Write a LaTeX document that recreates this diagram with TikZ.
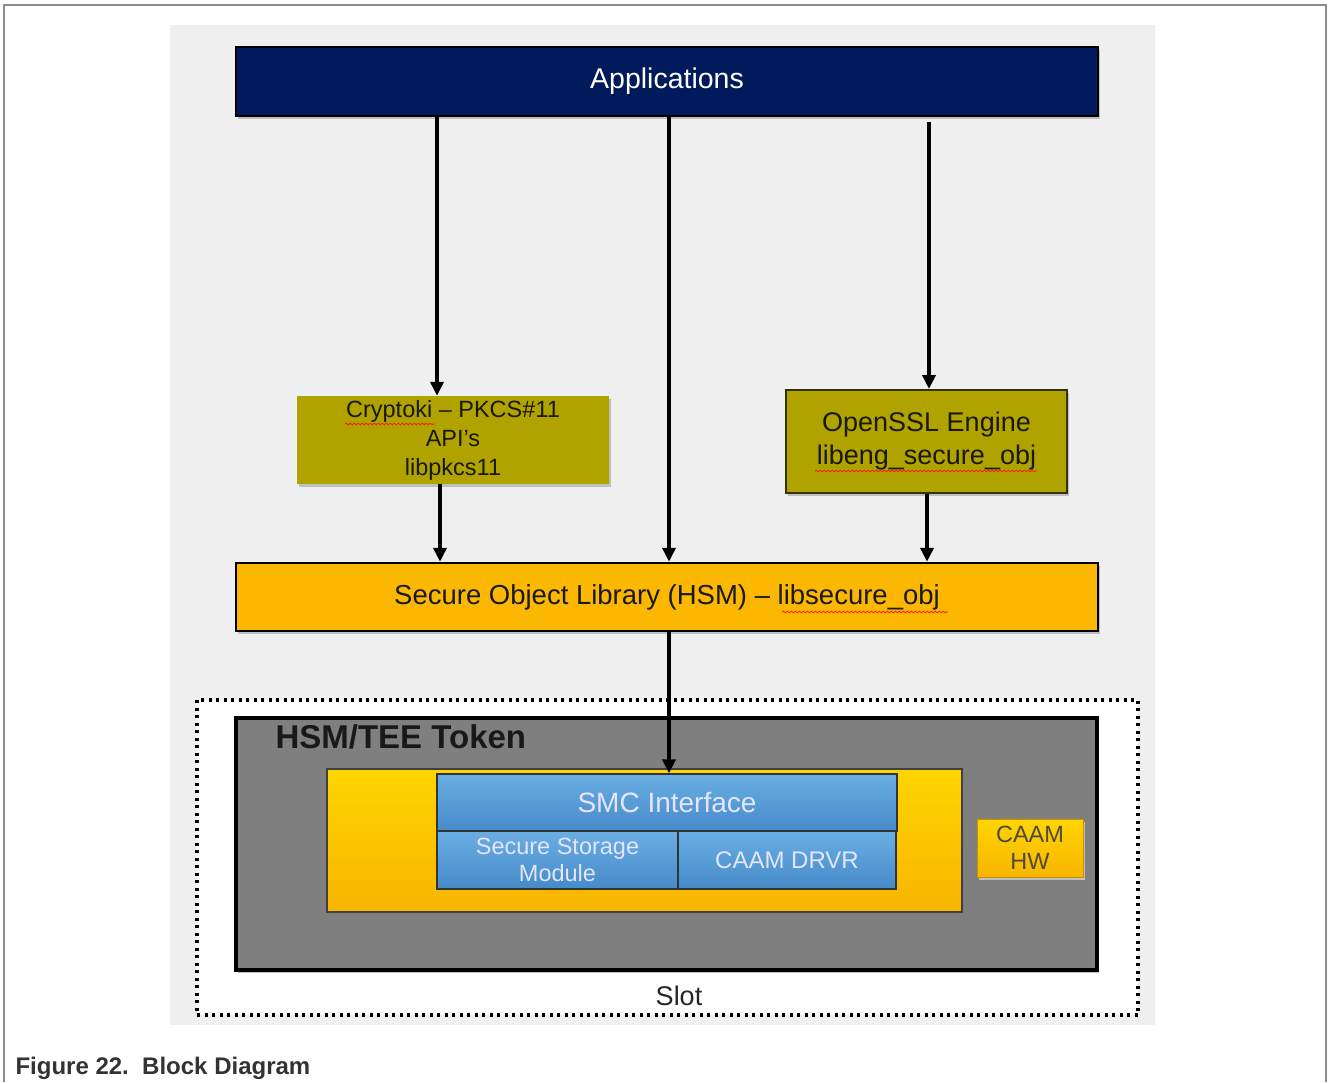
\documentclass[tikz,border=0pt]{standalone}
\usepackage{fontspec}
\setmainfont{Liberation Sans}
\usetikzlibrary{arrows.meta,decorations.pathmorphing}
\definecolor{navy}{HTML}{001A5C}
\definecolor{olive}{HTML}{B0A300}
\definecolor{soly}{HTML}{FCB800}
\definecolor{tokgray}{HTML}{7F7F7F}
\definecolor{panel}{HTML}{EFEFEF}
\definecolor{blueT}{HTML}{6AAEE4}
\definecolor{blueB}{HTML}{468BC9}
\definecolor{yelT}{HTML}{FFD500}
\definecolor{yelB}{HTML}{F7B500}
\definecolor{captxt}{HTML}{333333}
\tikzset{
  box/.style={draw=black, line width=2.5pt, inner sep=0pt, align=center},
  arr/.style={draw=black, line width=3.5pt, -{Triangle[length=14pt,width=13pt]}},
  bluebox/.style={draw=black!80, line width=1.2pt, top color=blueT, bottom color=blueB, text=white!90!blue, inner sep=0pt, align=center},
  shadowed/.style={preaction={fill=black!25, transform canvas={xshift=2pt,yshift=-3pt}}},
  squig/.style={draw=red!80!orange, line width=0.8pt, decorate, decoration={snake, amplitude=0.8pt, segment length=4pt}}
}
\begin{document}
\begin{tikzpicture}[x=1pt,y=-1pt]
\useasboundingbox (0,0) rectangle (1328,1082);
% outer frame
\draw[draw=black!45, line width=1.5pt] (4,1082) -- (4,5) -- (1326,5) -- (1326,1082);
% panel
\fill[panel] (170,25) rectangle (1155,1025);

% Applications
\node[box, fill=navy, text=white, minimum width=862pt, minimum height=69pt, font=\fontsize{28.5}{30}\selectfont, shadowed] (app) at (667,81.5) {Applications};

% Cryptoki
\node[inner sep=0pt, fill=olive, minimum width=312pt, minimum height=88pt, align=center, text=black!85!olive, font=\fontsize{23.5}{29}\selectfont, shadowed] (crypto) at (453,440) {Cryptoki – PKCS\#11\\API’s\\libpkcs11};

% OpenSSL
\node[draw=black!70!olive, line width=2pt, fill=olive, minimum width=281pt, minimum height=103pt, align=center, text=black!85!olive, font=\fontsize{27}{33}\selectfont, inner sep=0pt, shadowed] (ossl) at (926.5,441.5) {OpenSSL Engine\\libeng\_secure\_obj};

% Secure Object Library
\node[box, fill=soly, text=black!90, minimum width=862pt, minimum height=68pt, font=\fontsize{27.5}{30}\selectfont, shadowed] (sol) at (667,597) {Secure Object Library (HSM) – libsecure\_obj};

% Slot dotted box
\draw[line width=3.5pt, dash pattern=on 3pt off 4.5pt, fill=white] (197,700) rectangle (1138,1015);
\node[font=\fontsize{27}{30}\selectfont, text=black!85] (slot) at (679,996) {Slot};

% Token
\node[box, line width=4pt, fill=tokgray, minimum width=861pt, minimum height=252pt, shadowed] (tok) at (666.5,844) {};
\node[anchor=west, font=\bfseries\fontsize{33}{36}\selectfont, text=black!90] (toklbl) at (272,737) {HSM/TEE Token};

% Yellow inner
\node[draw=black!75, line width=2pt, top color=yelT, bottom color=yelB, minimum width=635pt, minimum height=143pt, inner sep=0pt] (inner) at (644.5,840.5) {};

% blue boxes
\node[bluebox, minimum width=460pt, minimum height=57pt, font=\fontsize{28}{30}\selectfont] (smc) at (667,802.5) {SMC Interface};
\node[bluebox, minimum width=241pt, minimum height=58pt, font=\fontsize{23.5}{27}\selectfont] (ssm) at (557.5,860) {Secure Storage\\Module};
\node[bluebox, minimum width=218pt, minimum height=58pt, font=\fontsize{24}{27}\selectfont] (drvr) at (787,860) {CAAM DRVR};

% CAAM HW
\node[draw=yelB!80!black, line width=0.8pt, top color=yelT, bottom color=yelB, minimum width=106pt, minimum height=58pt, inner sep=0pt, align=center, text=black!80!yellow, font=\fontsize{23.5}{27}\selectfont, shadowed] (hw) at (1030,848) {CAAM\\HW};

% arrow x positions
\coordinate (xa) at (437,0);
\coordinate (xb) at (669,0);
\coordinate (xc) at (929,0);
\coordinate (xd) at (440,0);
\coordinate (xe) at (927,0);
\coordinate (xc0) at (929,122);

\draw[arr] (app.south -| xa) -- (crypto.north -| xa);
\draw[arr] (app.south -| xb) -- (sol.north -| xb);
\draw[arr] (xc0) -- (ossl.north -| xc);
\draw[arr] (crypto.south -| xd) -- (sol.north -| xd);
\draw[arr] (ossl.south -| xe) -- (sol.north -| xe);
\draw[arr] (sol.south -| xb) -- (smc.north -| xb);

% spell-check squiggles
\draw[squig] (345,424) -- (435,424);
\draw[squig] (815,471) -- (1037,471);
\draw[squig] (782,612) -- (948,612);

% caption
\node[anchor=west, font=\bfseries\fontsize{24}{27}\selectfont, text=captxt] (cap) at (12,1068) {Figure 22.\ \ Block Diagram};
\end{tikzpicture}
\end{document}
